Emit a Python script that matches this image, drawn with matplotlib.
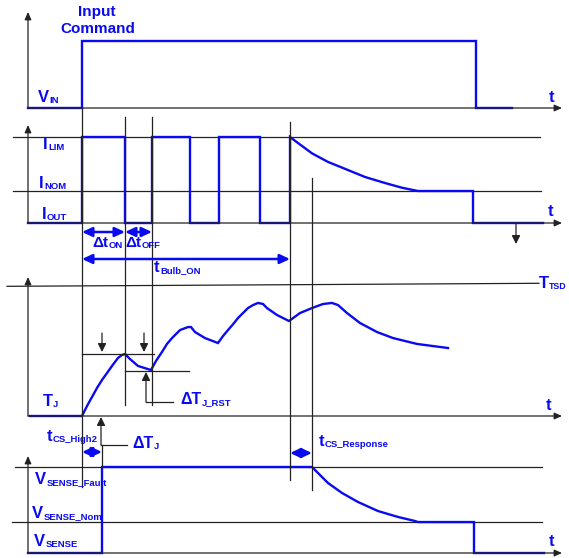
import matplotlib
matplotlib.use("Agg")
import matplotlib.pyplot as plt

# ---- waveform data (time in arbitrary units, t=0 at the vertical axes) ----
# V_IN: input command (0 = low, 1 = high)
vin_t = [0, 54, 54, 448, 448, 484]
vin_v = [0, 0, 1, 1, 0, 0]

# I_OUT: current limit pulses, then decay to I_NOM (1 = I_LIM)
i_lim = 1.0
i_nom = 0.372
iout_pulse_t = [0, 54, 54, 97, 97, 124, 124, 162, 162, 191, 191, 232, 232, 262]
iout_pulse_v = [0, 0, 1, 1, 0, 0, 1, 1, 0, 0, 1, 1, 0, 0]
iout_decay_t = [262, 270, 284, 300, 317, 337, 357, 374, 390]
iout_decay_v = [1.0, 0.93, 0.81, 0.71, 0.63, 0.535, 0.465, 0.41, 0.372]
iout_tail_t = [445, 445, 515]
iout_tail_v = [0.372, 0, 0]

# T_J: junction temperature (1 = T_TSD)
tj_t = [2, 54, 59, 64, 69, 74, 79, 84, 90, 94, 97, 102, 110, 123, 128, 134,
        139, 144, 152, 160, 163, 167, 177, 190, 195, 200, 205, 210, 215, 220,
        225, 230, 235, 239, 249, 261, 272, 284, 295, 304, 310, 319, 332, 349,
        365, 389, 420]
tj_v = [0, 0, 0.076, 0.145, 0.214, 0.275, 0.328, 0.382, 0.443, 0.466, 0.473,
        0.435, 0.382, 0.351, 0.42, 0.489, 0.55, 0.595, 0.656, 0.679, 0.679,
        0.641, 0.595, 0.557, 0.61, 0.656, 0.70, 0.748, 0.786, 0.824, 0.847,
        0.863, 0.855, 0.824, 0.771, 0.725, 0.786, 0.824, 0.855, 0.863, 0.847,
        0.786, 0.710, 0.641, 0.595, 0.550, 0.519]

# V_SENSE (1 = V_SENSE_Fault)
vs_fault = 1.0
vs_nom = 0.36
vs_step_t = [0, 74, 74, 284]
vs_step_v = [0, 0, 1, 1]
vs_decay_t = [284, 290, 300, 314, 330, 350, 370, 387, 390]
vs_decay_v = [1.0, 0.93, 0.814, 0.698, 0.593, 0.488, 0.419, 0.372, 0.36]
vs_tail_t = [446, 446, 516]
vs_tail_v = [0.36, 0, 0]

# event times
t_cmd = 54
t_on_end = 97
t_off_end = 124
t_cs_high2 = 74
t_bulb_on = 262
t_cs_resp = 284

W, H = 569, 558
BLUE = "#0A0AF0"
BLK = "#222222"
XLIM = (-28, 541)

plt.rcParams["font.family"] = "Liberation Sans"
plt.rcParams["font.weight"] = "bold"

fig = plt.figure(figsize=(W / 100, H / 100), dpi=100)


def panel(base, span):
    ax = fig.add_axes([0, 1 - base / H, 1, span / H])
    ax.set_xlim(*XLIM)
    ax.set_ylim(0, 1)
    ax.axis("off")
    return ax


def wave(ax, t, v):
    ax.plot(t, v, color=BLUE, lw=1.7, clip_on=False, solid_joinstyle="miter")


def ref(ax, x0, x1, y0, y1=None):
    ax.plot([x0, x1], [y0, y0 if y1 is None else y1], color=BLK, lw=0.9, clip_on=False)


# --- panel 1: V_IN
ax1 = panel(108, 67)
wave(ax1, vin_t, vin_v)

# --- panel 2: I_OUT
ax2 = panel(223, 86)
ref(ax2, -15, 512, i_lim)
ref(ax2, -15, 513, i_nom)
wave(ax2, iout_pulse_t + iout_decay_t + iout_tail_t,
     iout_pulse_v + iout_decay_v + iout_tail_v)

# --- panel 3: T_J
ax3 = panel(416, 131)
ref(ax3, -21, 511, 0.99, 1.013)
wave(ax3, tj_t, tj_v)

# --- panel 4: V_SENSE
ax4 = panel(553, 86)
ref(ax4, -13, 514, vs_fault)
ref(ax4, -16, 514, vs_nom)
wave(ax4, vs_step_t + vs_decay_t + vs_tail_t, vs_step_v + vs_decay_v + vs_tail_v)

# --- overlay: axes arrows, markers, labels (x = time, y = pixel row)
ov = fig.add_axes([0, 0, 1, 1])
ov.set_xlim(*XLIM)
ov.set_ylim(H, 0)
ov.axis("off")


def arrow(x0, y0, x1, y1, style="-|>", color=BLK, lw=0.9, hl=0.45, hw=0.2):
    ov.annotate("", xy=(x1, y1), xytext=(x0, y0),
                arrowprops=dict(arrowstyle=f"{style},head_length={hl},head_width={hw}",
                                color=color, lw=lw, shrinkA=0, shrinkB=0))


def vline(x, y0, y1):
    ov.plot([x, x], [y0, y1], color=BLK, lw=0.9)


def hline(x0, x1, y):
    ov.plot([x0, x1], [y, y], color=BLK, lw=0.9)


# axes of each panel
for base, top in [(108, 12), (223, 125), (416, 277), (553, 456)]:
    arrow(0, base, 0, top)
    arrow(0, base, 534, base)

# event markers
vline(t_cmd, 108, 487)
vline(t_on_end, 117, 405)
vline(t_off_end, 117, 405)
vline(t_bulb_on, 122, 480)
vline(t_cs_resp, 178, 490)
vline(t_cs_high2, 445, 467)
arrow(488, 223, 488, 244, hl=0.5, hw=0.25)

# T_J annotations
hline(t_cmd, 126, 354)
hline(t_on_end, 161, 371)
arrow(74, 333, 74, 352, hl=0.5, hw=0.25)
arrow(116, 333, 116, 352, hl=0.5, hw=0.25)
arrow(118, 402, 118, 372, hl=0.5, hw=0.25)
hline(118, 145, 402)
arrow(73, 445, 73, 417, hl=0.5, hw=0.25)
hline(73, 99, 445)

# blue timing arrows
big = dict(style="<|-|>", color=BLUE, lw=1.8, hl=0.6, hw=0.28)
arrow(t_cmd, 232, t_on_end, 232, **big)
arrow(t_on_end, 232, t_off_end, 232, **big)
arrow(t_cmd, 259, t_bulb_on, 259, **big)
arrow(t_cmd, 452, t_cs_high2, 452, **big)
arrow(t_bulb_on, 453, t_cs_resp, 453, **big)


# labels: main text with a smaller subscript placed right after it
def label(x, y, main, sub=None, size=12, subsize=6.8):
    txt = ov.text(x, y, main, color=BLUE, fontsize=size, fontweight="bold",
                  va="baseline", ha="left")
    if sub:
        ov.annotate(sub, xy=(1, 0), xycoords=txt, xytext=(0.2, 1.4),
                    textcoords="offset points", color=BLUE, fontsize=subsize,
                    fontweight="bold", va="baseline", ha="left")


ov.text(69, 12, "Input", color=BLUE, fontsize=11, fontweight="bold", ha="center", va="center")
ov.text(70, 29, "Command", color=BLUE, fontsize=11, fontweight="bold", ha="center", va="center")
label(10, 102, "V", "IN")
label(15, 149, "I", "LIM")
label(11, 188, "I", "NOM")
label(14, 219, "I", "OUT")
label(64, 247, "Δt", "ON", size=11)
label(97, 247, "Δt", "OFF", size=11)
label(126, 272, "t", "Bulb_ON")
label(511, 288, "T", "TSD", subsize=6.3)
label(15, 406, "T", "J")
label(152, 404, "ΔT", "J_RST", size=11.5)
label(104, 448, "ΔT", "J", size=11.5)
label(19, 441, "t", "CS_High2")
label(291, 446, "t", "CS_Response")
label(7, 484, "V", "SENSE_Fault")
label(4, 518, "V", "SENSE_Nom")
label(6, 546, "V", "SENSE")
for x, y in [(521, 102), (520, 216), (518, 410), (521, 546)]:
    label(x, y, "t")

fig.savefig("out.png", dpi=100)
